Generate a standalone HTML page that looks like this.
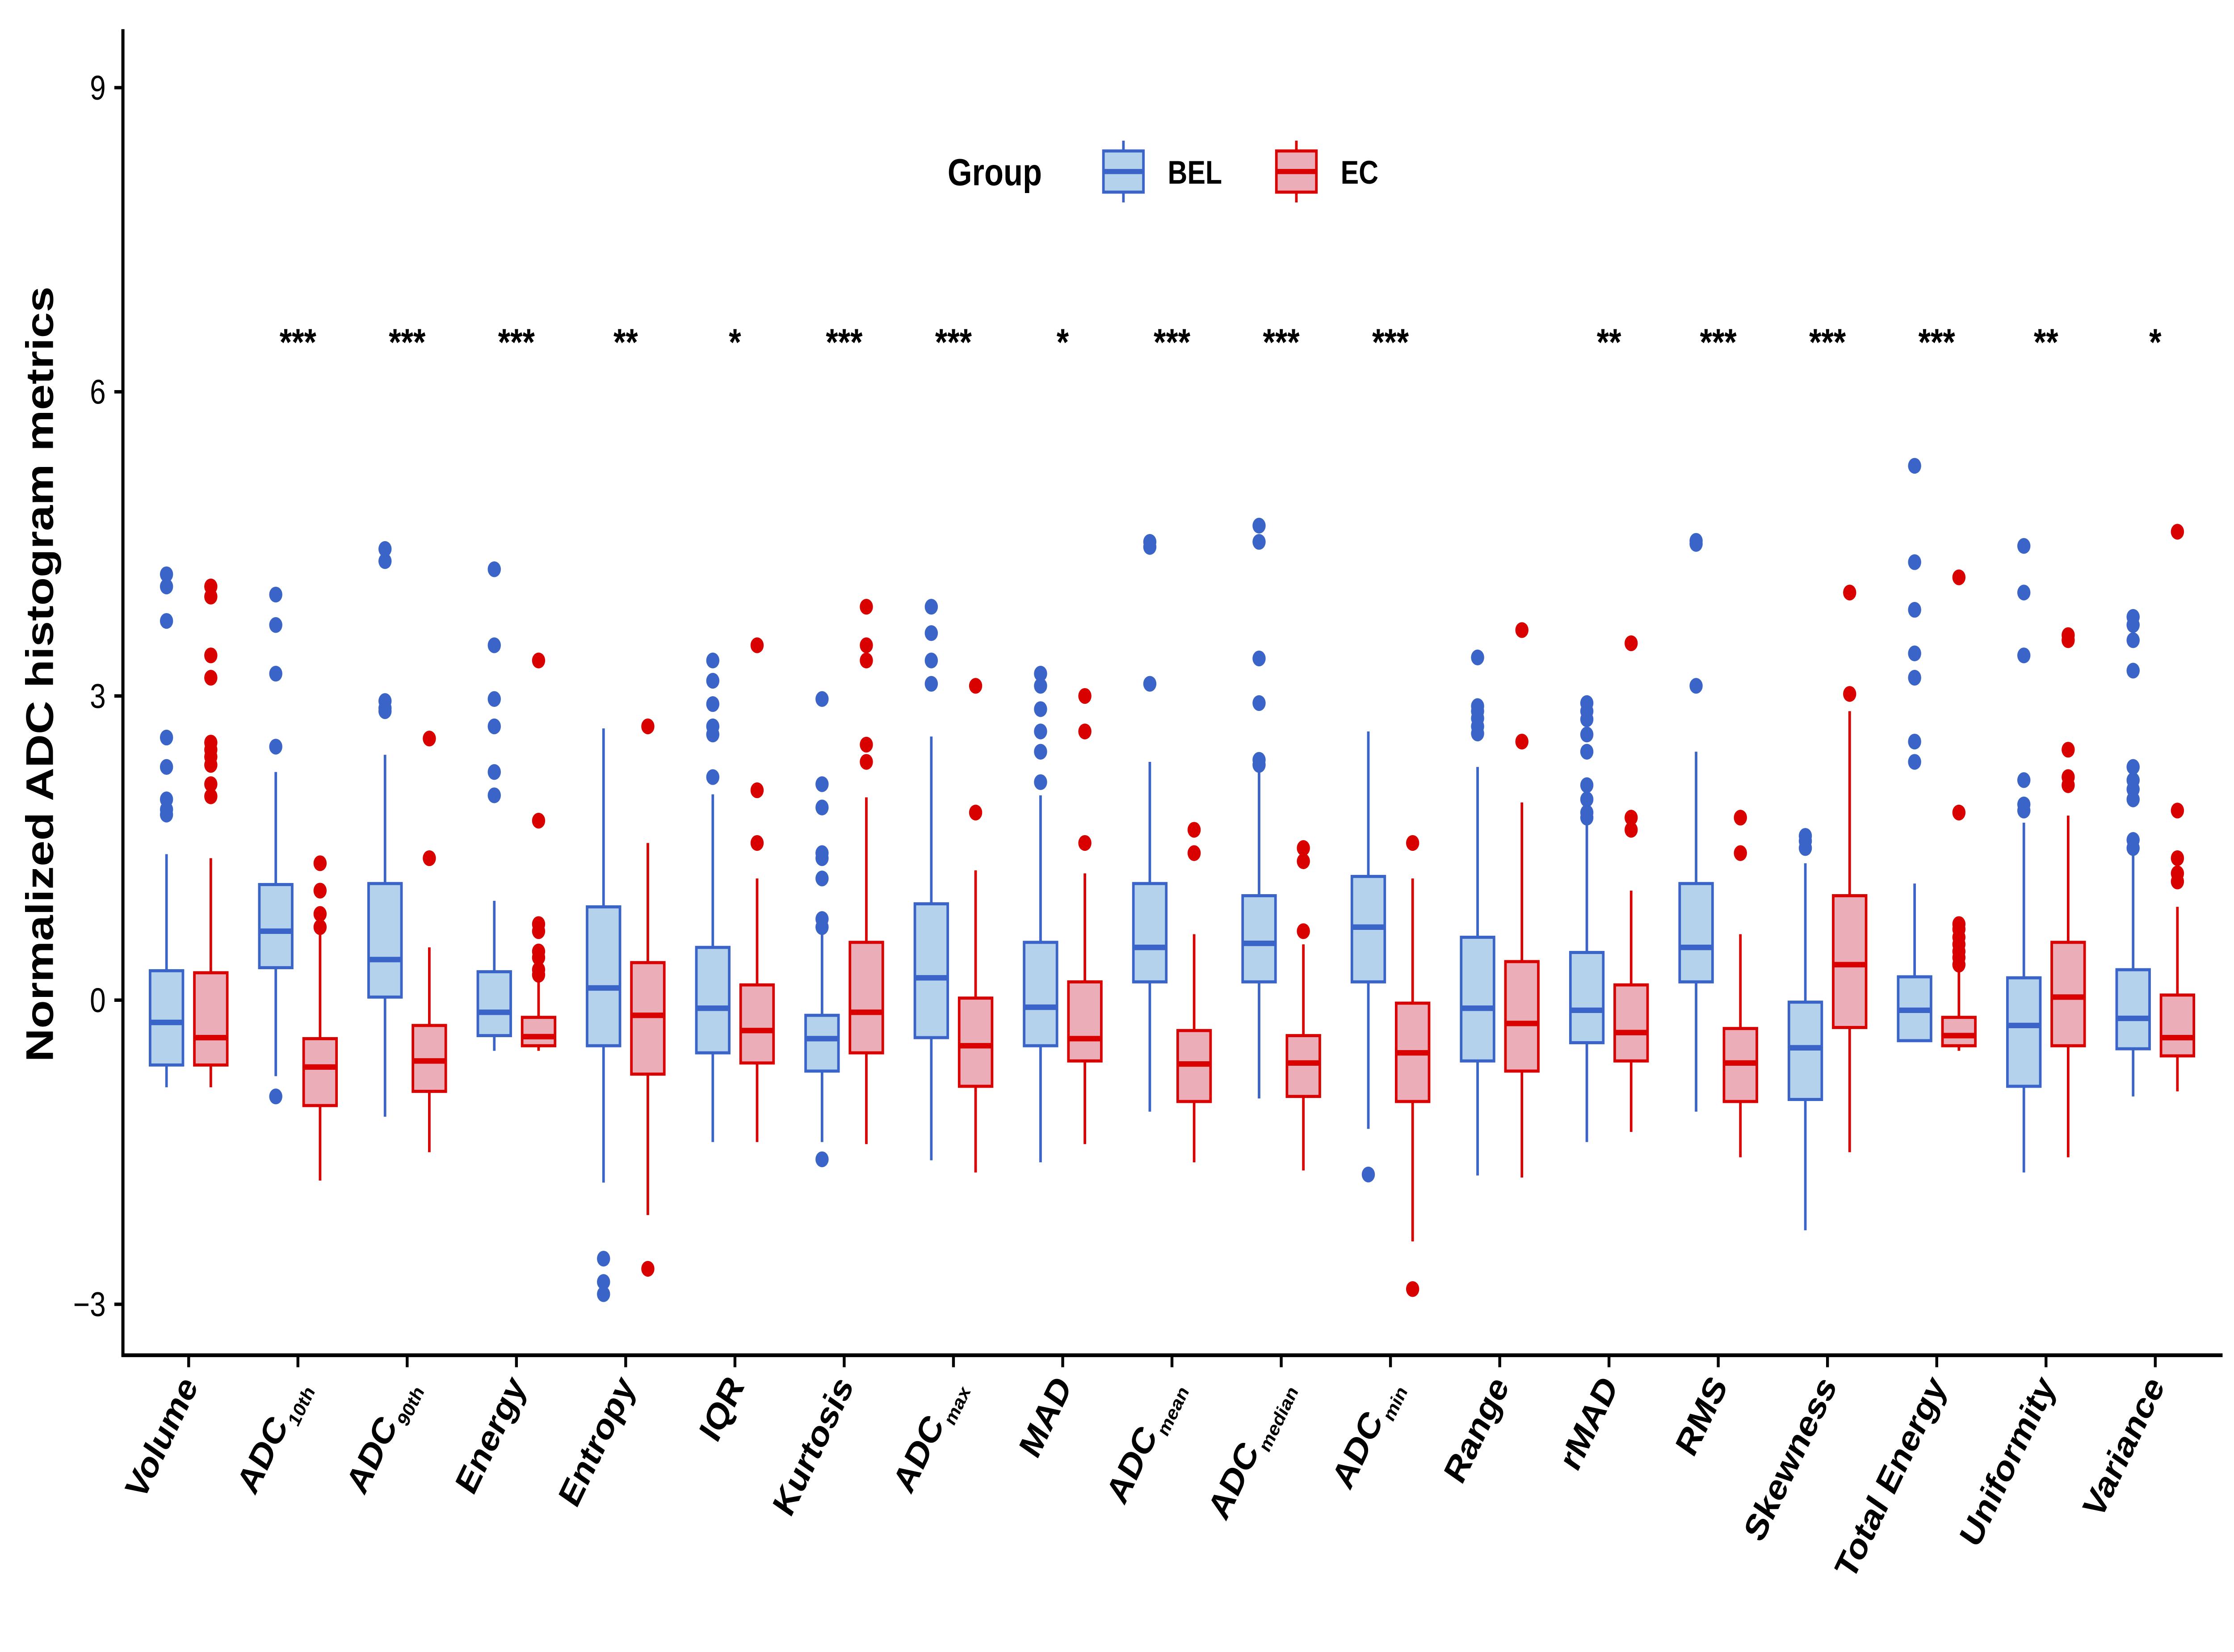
<!DOCTYPE html>
<html><head><meta charset="utf-8"><style>
html,body{margin:0;padding:0;background:#fff;overflow:hidden;width:100vw;height:100vh}
svg{display:block;width:100vw;height:100vh}
text{font-family:"Liberation Sans",Arial,sans-serif}
</style></head><body>
<svg id="chart" viewBox="0 0 1563 963" preserveAspectRatio="none" xmlns="http://www.w3.org/2000/svg"></svg>
<script>
const categories=["Volume","ADC|10th","ADC|90th","Energy","Entropy","IQR","Kurtosis","ADC|max","MAD","ADC|mean","ADC|median","ADC|min","Range","rMAD","RMS","Skewness","Total Energy","Uniformity","Variance"];
const stars=["","***","***","***","**","*","***","***","*","***","***","***","","**","***","***","***","**","*"];
// [lowWhisker, q1, median, q3, highWhisker]
const belStats=[[-0.86,-0.64,-0.22,0.29,1.44],[-0.75,0.32,0.68,1.14,2.25],[-1.15,0.03,0.4,1.15,2.42],[-0.5,-0.35,-0.12,0.28,0.98],[-1.8,-0.45,0.12,0.92,2.68],[-1.4,-0.52,-0.08,0.52,2.03],[-1.4,-0.7,-0.38,-0.15,0.68],[-1.58,-0.37,0.22,0.95,2.6],[-1.6,-0.45,-0.07,0.57,2.02],[-1.1,0.18,0.52,1.15,2.35],[-0.97,0.18,0.56,1.03,2.25],[-1.27,0.18,0.72,1.22,2.65],[-1.73,-0.6,-0.08,0.62,2.3],[-1.4,-0.42,-0.1,0.47,1.75],[-1.1,0.18,0.52,1.15,2.45],[-2.27,-0.98,-0.47,-0.02,1.35],[-0.4,-0.4,-0.1,0.23,1.15],[-1.7,-0.85,-0.25,0.22,1.75],[-0.95,-0.48,-0.18,0.3,1.45]];
const ecStats=[[-0.86,-0.64,-0.37,0.27,1.4],[-1.78,-1.04,-0.66,-0.38,0.7],[-1.5,-0.9,-0.6,-0.25,0.52],[-0.5,-0.45,-0.36,-0.17,0.2],[-2.12,-0.73,-0.15,0.37,1.55],[-1.4,-0.62,-0.3,0.15,1.2],[-1.42,-0.52,-0.12,0.57,2.0],[-1.7,-0.85,-0.45,0.02,1.28],[-1.42,-0.6,-0.38,0.18,1.25],[-1.6,-1.0,-0.63,-0.3,0.65],[-1.68,-0.95,-0.62,-0.35,0.55],[-2.38,-1.0,-0.52,-0.03,1.2],[-1.75,-0.7,-0.23,0.38,1.95],[-1.3,-0.6,-0.32,0.15,1.08],[-1.55,-1.0,-0.62,-0.28,0.65],[-1.5,-0.27,0.35,1.03,2.85],[-0.5,-0.45,-0.35,-0.17,0.3],[-1.55,-0.45,0.03,0.57,1.82],[-0.9,-0.55,-0.37,0.05,0.92]];
const belOut=[[4.2,4.08,3.74,2.59,2.3,1.98,1.88,1.83],[4.0,3.7,3.22,2.5,-0.95],[4.45,4.33,2.95,2.88,2.85],[4.25,3.5,2.97,2.7,2.25,2.02],[-2.55,-2.78,-2.9],[3.35,3.15,2.92,2.7,2.62,2.2],[2.97,2.13,1.9,1.45,1.4,1.2,0.8,0.72,-1.57],[3.88,3.62,3.35,3.12],[3.22,3.1,2.87,2.65,2.45,2.15],[4.52,4.47,3.12],[4.68,4.52,3.37,2.93,2.37,2.32],[-1.72],[3.38,2.9,2.85,2.78,2.7,2.63],[2.93,2.85,2.77,2.62,2.45,2.12,1.98,1.85,1.8],[4.53,4.5,3.1],[1.62,1.57,1.5],[5.27,4.32,3.85,3.42,3.18,2.55,2.35],[4.48,4.02,3.4,2.17,1.93,1.87],[3.78,3.7,3.55,3.25,2.3,2.17,2.08,1.98,1.58,1.5]];
const ecOut=[[4.08,3.98,3.4,3.18,2.54,2.47,2.4,2.32,2.13,2.01],[1.35,1.08,0.85,0.72],[2.58,1.4],[3.35,1.77,0.75,0.68,0.48,0.42,0.3,0.25],[2.7,-2.65],[3.5,2.07,1.55],[3.88,3.5,3.35,2.52,2.35],[3.1,1.85],[3.0,2.65,1.55],[1.68,1.45],[1.5,1.37,0.68],[1.55,-2.85],[3.65,2.55],[3.52,1.8,1.68],[1.8,1.45],[4.02,3.02],[4.17,1.85,0.75,0.7,0.62,0.55,0.48,0.42,0.35],[3.6,3.55,2.47,2.2,2.12],[4.62,1.87,1.4,1.25,1.17]];
const yTicks=[-3,0,3,6,9];

const NS="http://www.w3.org/2000/svg";
const svg=document.getElementById('chart');
const y=v=>583-59.1*v;
const xc=i=>132+i*76.44;
function el(tag,attrs,parent){const e=document.createElementNS(NS,tag);for(const k in attrs)e.setAttribute(k,attrs[k]);(parent||svg).appendChild(e);return e;}

const ax=el('line',{x1:86,y1:17,x2:86,y2:791,stroke:'#000','stroke-width':2.2});


const bx=el('line',{x1:85,y1:790,x2:1555,y2:790,stroke:'#000','stroke-width':2.2});


yTicks.forEach(t=>{
  const tl=el('line',{x1:80,y1:y(t),x2:86,y2:y(t),stroke:'#000','stroke-width':2});
  
  
  const tx=el('text',{x:74,y:y(t)+7,'text-anchor':'end','font-size':20,fill:'#000'});
  tx.textContent=t<0?'\u2212'+Math.abs(t):String(t);
  
  
});
const yt=el('text',{x:0,y:0,transform:'translate(37,393) rotate(-90)','text-anchor':'middle','font-size':27,'font-weight':'bold',fill:'#000'});
yt.textContent='Normalized ADC histogram metrics';



function drawBox(cx,s,outs,stroke,fill,name){
  const g=el('g',{});
  
  
  const w=23;
  el('line',{x1:cx,x2:cx,y1:y(s[0]),y2:y(s[1]),stroke:stroke,'stroke-width':1.8},g);
  el('line',{x1:cx,x2:cx,y1:y(s[3]),y2:y(s[4]),stroke:stroke,'stroke-width':1.8},g);
  el('rect',{x:cx-w/2,y:y(s[3]),width:w,height:y(s[1])-y(s[3]),fill:fill,stroke:stroke,'stroke-width':1.8},g);
  el('line',{x1:cx-w/2,x2:cx+w/2,y1:y(s[2]),y2:y(s[2]),stroke:stroke,'stroke-width':3.2},g);
  outs.forEach(o=>{
    const c=el('circle',{cx:cx,cy:y(o),r:4.6,fill:stroke},g);
    
    
  });
}
const BLUE='#3a64c8',BLUEF='#b4d2ec',RED='#d90000',REDF='#ebaeb9';
categories.forEach((c,i)=>{
  const cx=xc(i);
  drawBox(cx-15.5,belStats[i],belOut[i],BLUE,BLUEF,'box-bel');
  drawBox(cx+15.5,ecStats[i],ecOut[i],RED,REDF,'box-ec');
  const tk=el('line',{x1:cx,x2:cx,y1:790,y2:797,stroke:'#000','stroke-width':2});
  
  
  const parts=c.split('|');
  const t=el('text',{x:0,y:0,transform:`translate(${cx+7},${808}) rotate(-60)`,'text-anchor':'end','font-size':22,'font-weight':'bold',fill:'#000'});
  
  
  if(parts.length>1){
    const a=el('tspan',{},t);a.textContent=parts[0];
    const b=el('tspan',{'font-size':12,dy:6,dx:2},t);b.textContent=parts[1];
  } else t.textContent=c;
  if(stars[i]){
    const st=el('text',{x:cx,y:207,'text-anchor':'middle','font-size':22,'font-weight':'bold',fill:'#000'});
    st.textContent=stars[i];
    
    
  }
});

const lg=el('g',{});


const lt=el('text',{x:663,y:108,'font-size':22,'font-weight':'bold',fill:'#000'},lg);
lt.textContent='Group';
function key(x,stroke,fill,label,name){
  const g=el('g',{},lg);
  
  
  el('line',{x1:x+14,x2:x+14,y1:82,y2:118,stroke:stroke,'stroke-width':1.8},g);
  el('rect',{x:x,y:88,width:28,height:24,fill:fill,stroke:stroke,'stroke-width':1.8},g);
  el('line',{x1:x,x2:x+28,y1:100,y2:100,stroke:stroke,'stroke-width':3},g);
  const t=el('text',{x:x+45,y:107,'font-size':19,'font-weight':'bold',fill:'#000'},g);
  t.textContent=label;
}
key(772,BLUE,BLUEF,'BEL','legend-entry-bel');
key(893,RED,REDF,'EC','legend-entry-ec');
</script>
</body></html>
